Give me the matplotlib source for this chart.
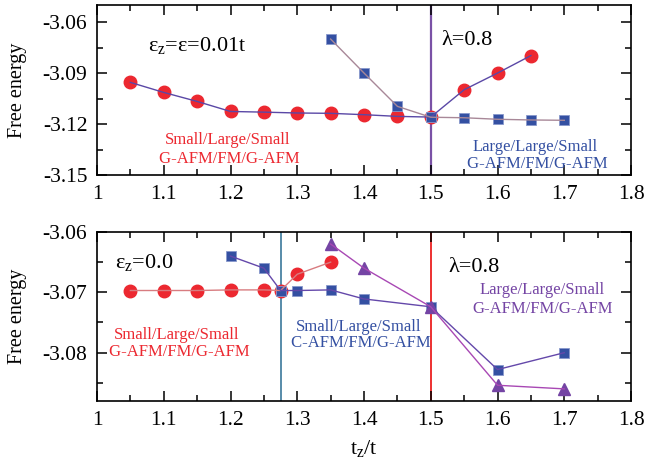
import matplotlib
matplotlib.use("Agg")
import matplotlib.pyplot as plt
from matplotlib.ticker import MultipleLocator

plt.rcParams['font.family'] = ['Liberation Serif', 'DejaVu Serif']
plt.rcParams['mathtext.fontset'] = 'stix'

# top panel: eps_z = eps = 0.01t
top_circ_x = [1.05, 1.1, 1.15, 1.2, 1.25, 1.3, 1.35, 1.4, 1.45, 1.5, 1.55, 1.6, 1.65]
top_circ_y = [-3.0955, -3.1014, -3.1067, -3.1126, -3.1130, -3.1135, -3.1137,
              -3.1145, -3.1155, -3.1159, -3.0998, -3.0900, -3.0797]
top_sq_x = [1.35, 1.4, 1.45, 1.5, 1.55, 1.6, 1.65, 1.7]
top_sq_y = [-3.0700, -3.0900, -3.1096, -3.1160, -3.1163, -3.1172, -3.1176, -3.1178]

# bottom panel: eps_z = 0.0
bot_circ_x = [1.05, 1.1, 1.15, 1.2, 1.25, 1.275, 1.3, 1.35]
bot_circ_y = [-3.0697, -3.0697, -3.0697, -3.0696, -3.0696, -3.0697, -3.0670, -3.0650]
bot_sq_x = [1.2, 1.25, 1.275, 1.3, 1.35, 1.4, 1.5, 1.6, 1.7]
bot_sq_y = [-3.0640, -3.0660, -3.0697, -3.0697, -3.0696, -3.0711, -3.0724, -3.0828, -3.0800]
bot_tri_x = [1.35, 1.4, 1.5, 1.6, 1.7]
bot_tri_y = [-3.0620, -3.0660, -3.0724, -3.0854, -3.0860]

RED = "#ec2830"
BLUE = "#3450a2"
PURPLE = "#7444a4"

fig = plt.figure(figsize=(6.45, 4.63), dpi=100)
ax1 = fig.add_axes([0.1504, 0.622, 0.828, 0.367])
ax2 = fig.add_axes([0.1504, 0.134, 0.828, 0.365])

for ax in (ax1, ax2):
    ax.set_xlim(1, 1.8)
    ax.xaxis.set_major_locator(MultipleLocator(0.1))
    ax.xaxis.set_minor_locator(MultipleLocator(0.05))
    ax.tick_params(which='both', direction='in', top=True, right=True,
                   labelsize=15.5, width=1.1)
    ax.tick_params(which='major', length=7, pad=7)
    ax.tick_params(which='minor', length=4)
    ax.set_ylabel("Free energy", fontsize=14.5)
    ax.yaxis.set_label_coords(-0.132, 0.5)
    for s in ax.spines.values():
        s.set_linewidth(1.2)
    ax.set_xticks([1, 1.1, 1.2, 1.3, 1.4, 1.5, 1.6, 1.7, 1.8])
    ax.set_xticklabels(["1", "1.1", "1.2", "1.3", "1.4", "1.5", "1.6", "1.7", "1.8"])

# top panel
ax1.set_ylim(-3.15, -3.05)
ax1.set_yticks([-3.15, -3.12, -3.09, -3.06])
ax1.set_yticklabels(["-3.15", "-3.12", "-3.09", "-3.06"])
ax1.yaxis.set_minor_locator(MultipleLocator(0.015))
ax1.axvline(1.5, color="#7a52a6", lw=1.6, zorder=1)
ax1.plot(top_circ_x, top_circ_y, 'o', color=RED, ms=9, mec=RED, zorder=3)
ax1.plot(top_sq_x, top_sq_y, 's', color=BLUE, ms=7.4, mec="#8898cc", mew=0.6, zorder=3)
ax1.plot(top_circ_x, top_circ_y, '-', color="#5a48a6", lw=1.0, zorder=4)
ax1.plot(top_sq_x, top_sq_y, '-', color="#a88898", lw=1.0, zorder=4)
ax1.text(1.076, -3.0737, r"$\mathregular{\varepsilon_z}$=$\mathregular{\varepsilon}$=0.01t",
         fontsize=16, va='center', ha='left')
ax1.text(1.516, -3.0708, "λ=0.8", fontsize=16, va='center', ha='left')
ax1.text(1.195, -3.1349, "Small/Large/Small\n G-AFM/FM/G-AFM", color=RED,
         fontsize=12, ha='center', va='center', multialignment='center', linespacing=1.2)
ax1.text(1.656, -3.1384, "Large/Large/Small\n G-AFM/FM/G-AFM", color=BLUE,
         fontsize=12, ha='center', va='center', multialignment='center', linespacing=1.1)

# bottom panel
ax2.set_ylim(-3.088, -3.06)
ax2.set_yticks([-3.08, -3.07, -3.06])
ax2.set_yticklabels(["-3.08", "-3.07", "-3.06"])
ax2.yaxis.set_minor_locator(MultipleLocator(0.005))
ax2.axvline(1.275, color="#4a82a2", lw=1.3, zorder=1)
ax2.axvline(1.5, color="#ec2020", lw=1.3, zorder=1)
ax2.plot(bot_circ_x, bot_circ_y, 'o', color=RED, ms=9, mec=RED, zorder=3)
ax2.plot(bot_sq_x, bot_sq_y, 's', color=BLUE, ms=7.4, mec="#8898cc", mew=0.6, zorder=3)
ax2.plot(bot_tri_x, bot_tri_y, '^', color=PURPLE, ms=8.5, mec=PURPLE, zorder=3)
ax2.plot(bot_circ_x, bot_circ_y, '-', color="#d87c80", lw=1.0, zorder=4)
ax2.plot(bot_sq_x, bot_sq_y, '-', color="#6448aa", lw=1.0, zorder=4)
ax2.plot(bot_tri_x, bot_tri_y, '-', color="#a848b4", lw=1.0, zorder=4)
ax2.text(1.027, -3.0651, r"$\mathregular{\varepsilon_z}$=0.0", fontsize=16, va='center', ha='left')
ax2.text(1.526, -3.0659, "λ=0.8", fontsize=16, va='center', ha='left')
ax2.text(1.12, -3.0785, "Small/Large/Small\n G-AFM/FM/G-AFM", color=RED,
         fontsize=12, ha='center', va='center', multialignment='center', linespacing=1.1)
ax2.text(1.392, -3.0771, "Small/Large/Small\n C-AFM/FM/G-AFM", color=BLUE,
         fontsize=12, ha='center', va='center', multialignment='center', linespacing=1.0)
ax2.text(1.667, -3.0712, "Large/Large/Small\nG-AFM/FM/G-AFM", color=PURPLE,
         fontsize=12, ha='center', va='center', multialignment='center', linespacing=1.3)
ax2.set_xlabel(r"t$\mathregular{_z}$/t", fontsize=16, labelpad=6)

fig.savefig("out.png", dpi=100)
